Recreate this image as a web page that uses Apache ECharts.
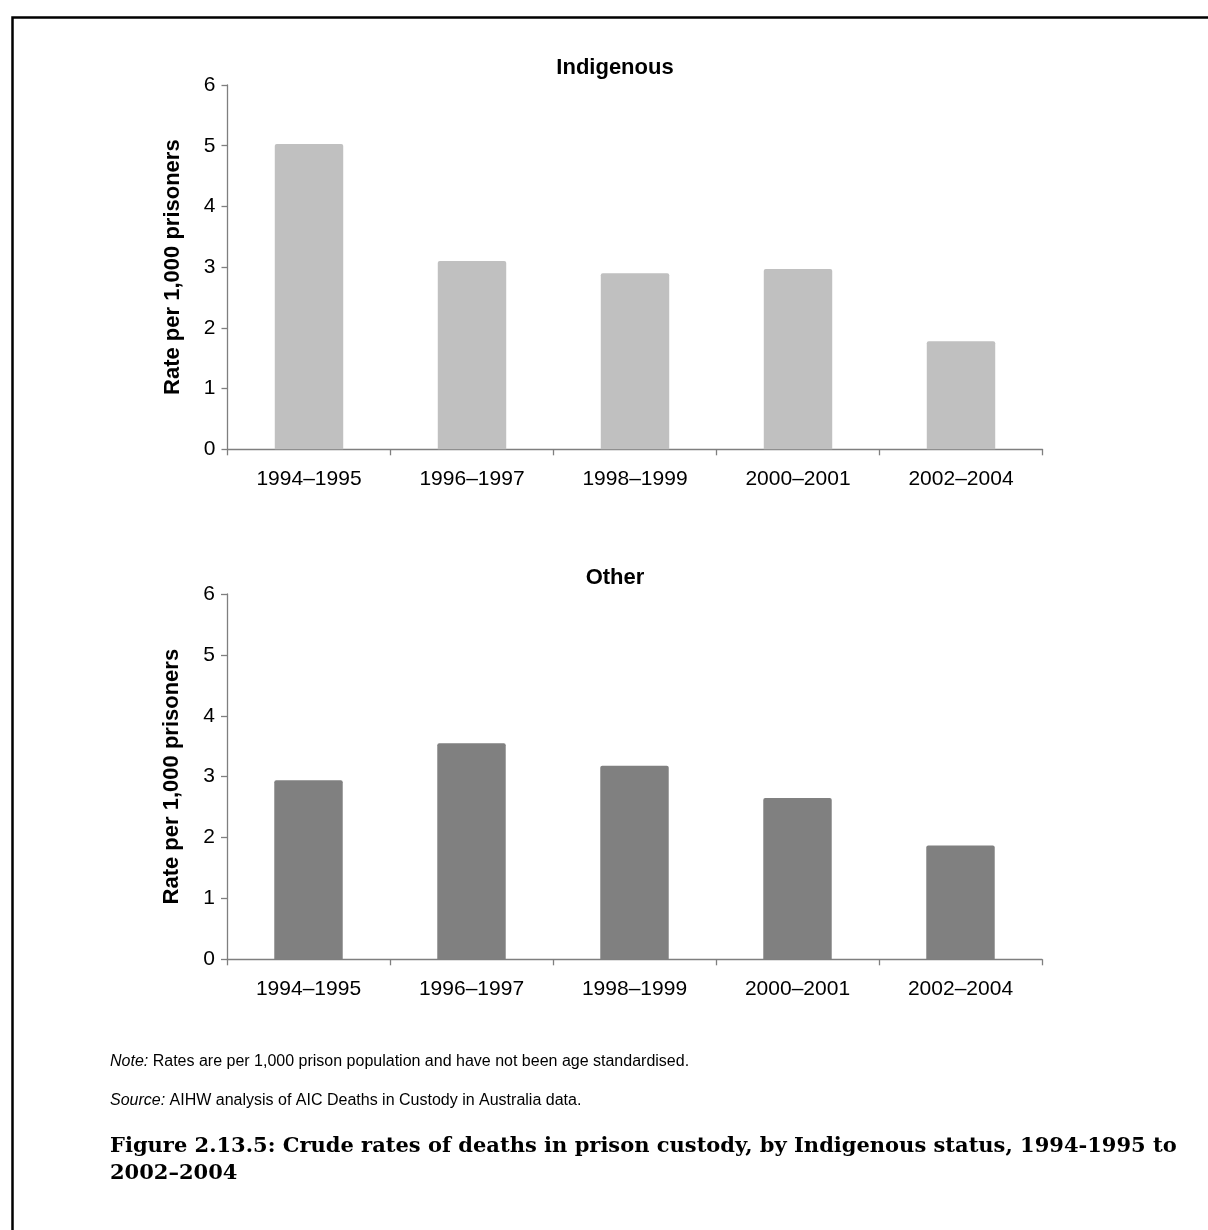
<!DOCTYPE html>
<html>
<head>
<meta charset="utf-8">
<script src="https://cdn.jsdelivr.net/npm/echarts@6/dist/echarts.min.js"></script>
<style>
html,body{margin:0;padding:0;background:#fff;}
#chart{width:1208px;height:1230px;}
</style>
</head>
<body>
<div id="chart"></div>
<script>
var categories = ['1994\u20131995', '1996\u20131997', '1998\u20131999', '2000\u20132001', '2002\u20132004'];
var indigenousValues = [5.03, 3.10, 2.90, 2.97, 1.78];
var otherValues = [2.94, 3.55, 3.18, 2.65, 1.87];
var yTicks = [0, 1, 2, 3, 4, 5, 6];
var panelTitles = ['Indigenous', 'Other'];
var yAxisTitle = 'Rate per 1,000 prisoners';
var noteText = 'Rates are per 1,000 prison population and have not been age standardised.';
var sourceText = 'AIHW analysis of AIC Deaths in Custody in Australia data.';
var captionLines = ['Figure 2.13.5: Crude rates of deaths in prison custody, by Indigenous status, 1994-1995 to', '2002\u20132004'];

var FONT = 'Arial, "Liberation Sans", sans-serif';
var axisColor = '#7f7f7f';

function makeX(gi) {
  return {
    type: 'category', gridIndex: gi, data: categories,
    axisLine: {show: true, lineStyle: {color: axisColor, width: 1.3}},
    axisTick: {show: true, length: 6, lineStyle: {color: axisColor, width: 1.3}},
    axisLabel: {color: '#000', fontSize: 21, fontFamily: FONT, margin: 19},
    splitLine: {show: false}
  };
}
function makeY(gi) {
  return {
    type: 'value', gridIndex: gi, min: yTicks[0], max: yTicks[yTicks.length - 1], interval: 1,
    name: yAxisTitle, nameLocation: 'middle', nameGap: 44, nameRotate: 90,
    nameTextStyle: {color: '#000', fontSize: 22, fontWeight: 'bold', fontFamily: FONT},
    axisLine: {show: true, lineStyle: {color: axisColor, width: 1.3}},
    axisTick: {show: true, length: 6, lineStyle: {color: axisColor, width: 1.3}},
    axisLabel: {color: '#000', fontSize: 21, fontFamily: FONT, margin: 12},
    splitLine: {show: false}
  };
}

var chart = echarts.init(document.getElementById('chart'), null, {renderer: 'canvas'});
chart.setOption({
  backgroundColor: '#fff',
  animation: false,
  grid: [
    {left: 227.5, top: 85, width: 815, height: 364.3},
    {left: 227, top: 594, width: 815, height: 365.3}
  ],
  xAxis: [makeX(0), makeX(1)],
  yAxis: [makeY(0), makeY(1)],
  series: [
    {type: 'bar', xAxisIndex: 0, yAxisIndex: 0, data: indigenousValues, barCategoryGap: '58%',
     itemStyle: {color: '#c0c0c0', borderRadius: [2, 2, 0, 0]}, silent: true},
    {type: 'bar', xAxisIndex: 1, yAxisIndex: 1, data: otherValues, barCategoryGap: '58%',
     itemStyle: {color: '#808080', borderRadius: [2, 2, 0, 0]}, silent: true}
  ],
  graphic: [
    {type: 'rect', left: 10, top: 15, silent: true, z: 100,
     shape: {x: 0, y: 0, width: 1400, height: 1400},
     style: {fill: 'none', stroke: '#000', lineWidth: 2.5}},
    {type: 'text', x: 615, y: 68, silent: true,
     style: {text: panelTitles[0], fill: '#000', font: 'bold 22px ' + FONT, textAlign: 'center', textVerticalAlign: 'middle'}},
    {type: 'text', x: 615, y: 578, silent: true,
     style: {text: panelTitles[1], fill: '#000', font: 'bold 22px ' + FONT, textAlign: 'center', textVerticalAlign: 'middle'}},
    {type: 'text', x: 110, y: 1062, silent: true,
     style: {text: '{i|Note:} ' + noteText, fill: '#000', font: '16px ' + FONT, textVerticalAlign: 'middle',
       rich: {i: {fontStyle: 'italic', fontSize: 16, fontFamily: FONT, fill: '#000'}}}},
    {type: 'text', x: 110, y: 1101, silent: true,
     style: {text: '{i|Source:} ' + sourceText, fill: '#000', font: '16px ' + FONT, textVerticalAlign: 'middle',
       rich: {i: {fontStyle: 'italic', fontSize: 16, fontFamily: FONT, fill: '#000'}}}},
    {type: 'text', x: 110, y: 1147, silent: true,
     style: {text: captionLines[0], fill: '#000', font: 'bold 21px "DejaVu Serif", serif', textVerticalAlign: 'middle'}},
    {type: 'text', x: 110, y: 1174, silent: true,
     style: {text: captionLines[1], fill: '#000', font: 'bold 21px "DejaVu Serif", serif', textVerticalAlign: 'middle'}}
  ]
});
</script>
</body>
</html>
